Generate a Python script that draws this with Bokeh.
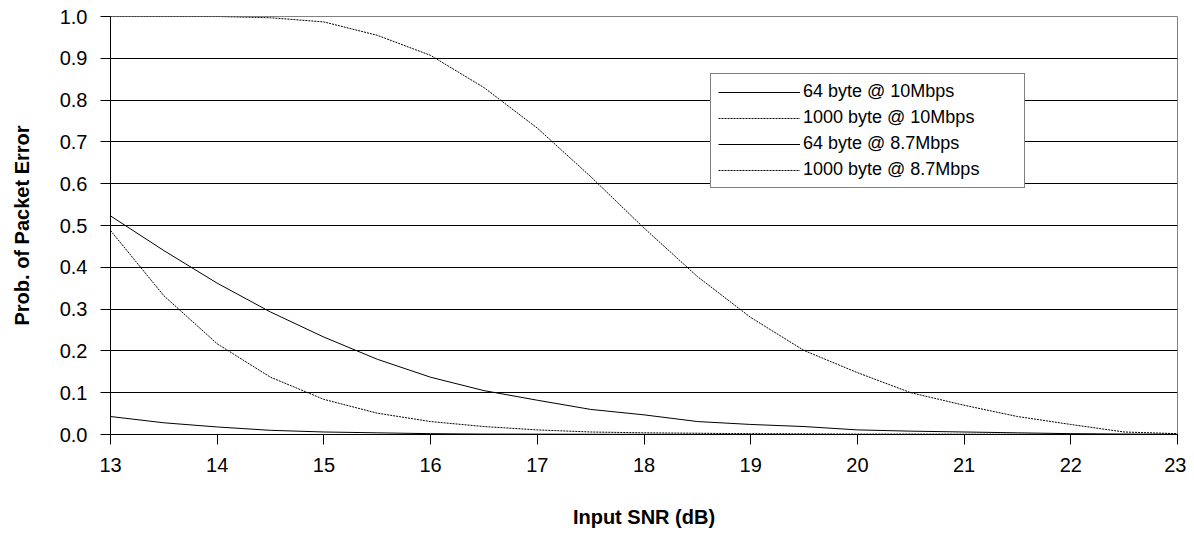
from bokeh.plotting import figure
from bokeh.models import Range1d, FixedTicker, PrintfTickFormatter, Legend, LegendItem
from bokeh.embed import file_html
from bokeh.resources import INLINE

snr = [13, 13.5, 14, 14.5, 15, 15.5, 16, 16.5, 17, 17.5, 18, 18.5, 19, 19.5, 20, 20.5, 21, 21.5, 22, 22.5, 23]

per_64_10 = [0.523, 0.44, 0.362, 0.293, 0.233, 0.18, 0.137, 0.105, 0.082, 0.06, 0.047, 0.031, 0.024, 0.019, 0.011, 0.008, 0.006, 0.004, 0.002, 0.001, 0.0005]
per_1000_10 = [1.0, 1.0, 1.0, 0.997, 0.987, 0.955, 0.907, 0.83, 0.733, 0.617, 0.494, 0.378, 0.28, 0.201, 0.148, 0.1, 0.07, 0.043, 0.024, 0.006, 0.002]
per_64_87 = [0.043, 0.028, 0.018, 0.01, 0.006, 0.004, 0.002, 0.001, 0.0008, 0.0005, 0.0003, 0.0002, 0.0001, 0.0001, 0.0, 0.0, 0.0, 0.0, 0.0, 0.0, 0.0]
per_1000_87 = [0.488, 0.332, 0.217, 0.137, 0.084, 0.051, 0.031, 0.019, 0.011, 0.006, 0.004, 0.003, 0.002, 0.0015, 0.001, 0.001, 0.0008, 0.0006, 0.0005, 0.0003, 0.0002]

labels = ["64 byte @ 10Mbps", "1000 byte @ 10Mbps", "64 byte @ 8.7Mbps", "1000 byte @ 8.7Mbps"]
x_ticks = [13, 14, 15, 16, 17, 18, 19, 20, 21, 22, 23]
y_ticks = [0.0, 0.1, 0.2, 0.3, 0.4, 0.5, 0.6, 0.7, 0.8, 0.9, 1.0]

FONT = "Liberation Sans"

p = figure(width=1186, height=532, output_backend="svg", toolbar_location=None,
           x_range=Range1d(13, 23), y_range=Range1d(0, 1),
           min_border_left=110, min_border_top=16, min_border_right=9, min_border_bottom=98)
p.background_fill_color = "white"
p.border_fill_color = "white"
p.outline_line_color = "#808080"
p.outline_line_width = 1

p.xgrid.grid_line_color = None
p.ygrid.grid_line_color = "black"
p.ygrid.grid_line_width = 1
p.ygrid.ticker = FixedTicker(ticks=y_ticks)

p.xaxis.ticker = FixedTicker(ticks=x_ticks)
p.yaxis.ticker = FixedTicker(ticks=y_ticks)
p.yaxis.formatter = PrintfTickFormatter(format="%.1f")

for ax in (p.xaxis, p.yaxis):
    ax.axis_line_color = "black"
    ax.axis_line_width = 1
    ax.major_tick_line_color = "black"
    ax.major_tick_in = 0
    ax.major_tick_out = 10
    ax.minor_tick_line_color = None
    ax.major_label_text_font = FONT
    ax.major_label_text_font_size = "20px"
    ax.major_label_text_color = "black"
    ax.axis_label_text_font = FONT
    ax.axis_label_text_font_size = "20px"
    ax.axis_label_text_font_style = "bold"
    ax.axis_label_text_color = "black"

p.xaxis.major_label_standoff = 13
p.yaxis.major_label_standoff = 13
p.xaxis.axis_label = "Input SNR (dB)"
p.yaxis.axis_label = "Prob. of Packet Error"
p.xaxis.axis_label_standoff = 31
p.yaxis.axis_label_standoff = 24

r1 = p.line(snr, per_64_10, line_color="black", line_width=1)
r2 = p.line(snr, per_1000_10, line_color="black", line_width=1, line_dash="2 1")
r3 = p.line(snr, per_64_87, line_color="black", line_width=1)
r4 = p.line(snr, per_1000_87, line_color="black", line_width=1, line_dash="2 1")

legend = Legend(items=[LegendItem(label=labels[0], renderers=[r1]),
                       LegendItem(label=labels[1], renderers=[r2]),
                       LegendItem(label=labels[2], renderers=[r3]),
                       LegendItem(label=labels[3], renderers=[r4])],
                location=(600, 246))
legend.label_text_font = FONT
legend.label_text_font_size = "18px"
legend.label_text_color = "black"
legend.label_height = 20
legend.glyph_height = 20
legend.glyph_width = 82
legend.label_standoff = 3
legend.label_width = 214
legend.spacing = 5
legend.padding = 7
legend.margin = 0
legend.border_line_color = "black"
legend.border_line_width = 1
legend.background_fill_color = "white"
legend.background_fill_alpha = 1.0
p.add_layout(legend)

open("out.html", "w").write(file_html(p, INLINE))
